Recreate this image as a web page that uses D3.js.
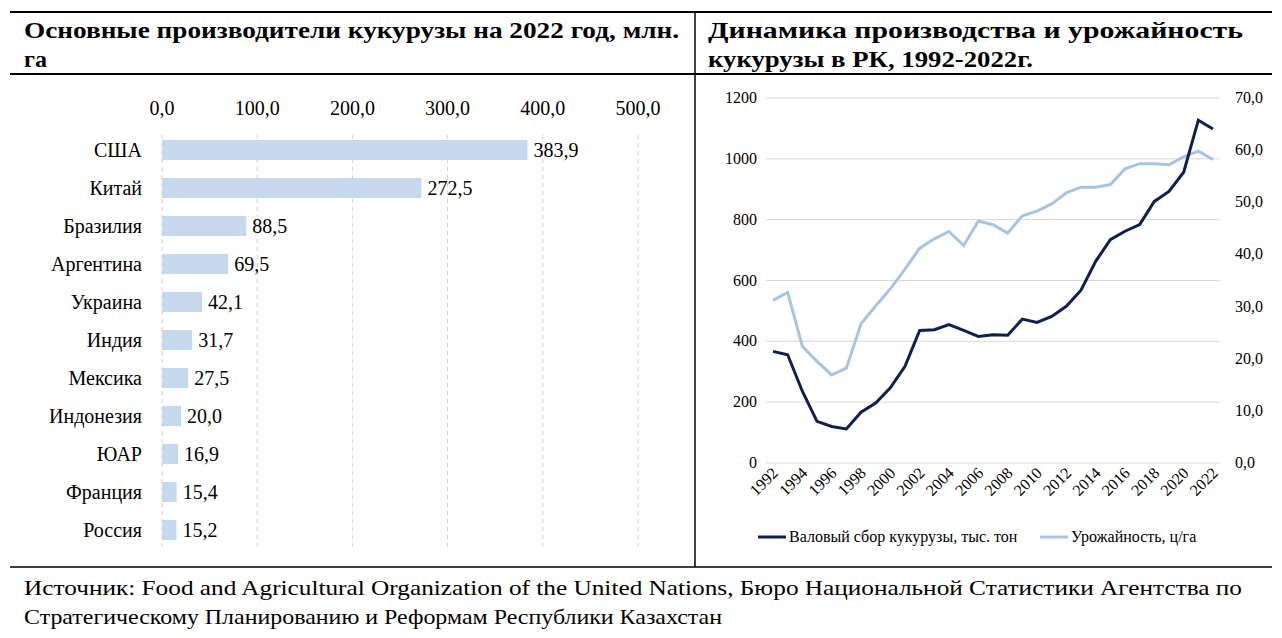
<!DOCTYPE html>
<html><head><meta charset="utf-8">
<script src="https://cdn.jsdelivr.net/npm/d3@7"></script>
<style>body{margin:0;background:#fff}svg{font-family:"Liberation Serif","Times New Roman",serif}</style>
</head><body><svg id="c" width="1282" height="638"></svg>
<script>
// data
var countries = ["США","Китай","Бразилия","Аргентина","Украина","Индия","Мексика","Индонезия","ЮАР","Франция","Россия"];
var areas = [383.9,272.5,88.5,69.5,42.1,31.7,27.5,20.0,16.9,15.4,15.2];
var years = d3.range(1992, 2023);
var output = [367,356,236,137,120,112,167,197,247,318,436,438,455,436,416,422,420,473,462,482,515,568,663,734,762,784,860,893,956,1127,1098];
var yieldV = [31.2,32.7,22.4,19.5,16.9,18.2,26.7,30.1,33.4,37.2,41.2,43.0,44.4,41.7,46.4,45.7,44.1,47.4,48.3,49.7,51.8,52.9,52.9,53.4,56.4,57.4,57.4,57.2,58.7,59.8,58.2];

var svg = d3.select("#c");
var fmt = function(v){ return d3.format(".1f")(v).replace(".", ","); };

// frame lines
svg.append("line").attr("x1",10).attr("x2",1272).attr("y1",12).attr("y2",12).attr("stroke","#000").attr("stroke-width",2);
svg.append("line").attr("x1",10).attr("x2",1272).attr("y1",74).attr("y2",74).attr("stroke","#000").attr("stroke-width",2);
svg.append("line").attr("x1",10).attr("x2",1272).attr("y1",567).attr("y2",567).attr("stroke","#000").attr("stroke-width",1.5);
svg.append("line").attr("x1",695).attr("x2",695).attr("y1",12).attr("y2",567).attr("stroke","#000").attr("stroke-width",1.5);

// text helper (stretch to given width when len set)
function txt(x, yy, t, size, len, bold) {
  var el = svg.append("text").attr("x",x).attr("y",yy).attr("font-size",size).text(t);
  if (bold) el.attr("font-weight","bold");
  if (len) el.attr("textLength",len).attr("lengthAdjust","spacingAndGlyphs");
  return el;
}
txt(24,38,"Основные производители кукурузы на 2022 год, млн.",24,655,true);
txt(24,67,"га",24,null,true);
txt(708,38,"Динамика   производства   и   урожайность",24,535,true);
txt(708,67,"кукурузы в РК, 1992-2022г.",24,325,true);

// footnote
txt(24,595,"Источник: Food and Agricultural Organization of the United Nations, Бюро Национальной Статистики Агентства по",21,1218);
txt(24,624,"Стратегическому Планированию и Реформам Республики Казахстан",21,698);

// ---- bar chart ----
var x = d3.scaleLinear().domain([0,500]).range([162,638]);
var y = d3.scaleBand().domain(countries).range([131,549]).paddingInner(0.47).paddingOuter(0.235);
var ticks = [0,100,200,300,400,500];
svg.selectAll(".vg").data(ticks).enter().append("line")
  .attr("x1",x).attr("x2",x).attr("y1",135).attr("y2",549)
  .attr("stroke","#d0d0d0").attr("stroke-dasharray","4,4");
svg.selectAll(".xt").data(ticks).enter().append("text")
  .attr("x",x).attr("y",115).attr("text-anchor","middle").attr("font-size",20).text(fmt);
svg.selectAll(".bar").data(areas).enter().append("rect")
  .attr("x",x(0)).attr("y",function(d,i){return y(countries[i]);})
  .attr("width",function(d){return x(d)-x(0);}).attr("height",y.bandwidth())
  .attr("fill","#c5d8ee");
svg.selectAll(".bl").data(areas).enter().append("text")
  .attr("x",function(d){return x(d)+6;}).attr("y",function(d,i){return y(countries[i])+y.bandwidth()/2+7;})
  .attr("font-size",20).text(fmt);
svg.selectAll(".cl").data(countries).enter().append("text")
  .attr("x",142).attr("y",function(d){return y(d)+y.bandwidth()/2+7;})
  .attr("text-anchor","end").attr("font-size",20).text(function(d){return d;});

// ---- line chart ----
var lx = d3.scalePoint().domain(years).range([773,1213]);
var ly = d3.scaleLinear().domain([0,1200]).range([463,98]);
var ry = d3.scaleLinear().domain([0,70]).range([463,98]);
svg.selectAll(".hg").data(d3.range(0,1201,200)).enter().append("line")
  .attr("x1",766).attr("x2",1220).attr("y1",ly).attr("y2",ly).attr("stroke","#d9d9d9");
svg.selectAll(".lt").data(d3.range(0,1201,200)).enter().append("text")
  .attr("x",757).attr("y",function(d){return ly(d)+5;}).attr("text-anchor","end").attr("font-size",16).text(function(d){return d;});
svg.selectAll(".rt").data(d3.range(0,71,10)).enter().append("text")
  .attr("x",1235).attr("y",function(d){return ry(d)+5;}).attr("font-size",16).text(fmt);
svg.selectAll(".yt").data(years.filter(function(d){return d%2===0;})).enter().append("text")
  .attr("transform",function(d){return "translate("+(lx(d)+6)+",474) rotate(-45)";})
  .attr("text-anchor","end").attr("font-size",16).text(function(d){return d;});
svg.append("path").datum(yieldV).attr("fill","none").attr("stroke","#a9c4e2").attr("stroke-width",3)
  .attr("d", d3.line().x(function(d,i){return lx(years[i]);}).y(function(d){return ry(d);}));
svg.append("path").datum(output).attr("fill","none").attr("stroke","#0f1f4f").attr("stroke-width",3)
  .attr("d", d3.line().x(function(d,i){return lx(years[i]);}).y(function(d){return ly(d);}));

// legend
svg.append("line").attr("x1",758).attr("x2",786).attr("y1",537).attr("y2",537).attr("stroke","#0f1f4f").attr("stroke-width",3);
svg.append("text").attr("x",789).attr("y",542).attr("font-size",16).text("Валовый сбор кукурузы, тыс. тон");
svg.append("line").attr("x1",1040).attr("x2",1068).attr("y1",537).attr("y2",537).attr("stroke","#a9c4e2").attr("stroke-width",3);
svg.append("text").attr("x",1071).attr("y",542).attr("font-size",16).text("Урожайность, ц/га");
</script></body></html>
